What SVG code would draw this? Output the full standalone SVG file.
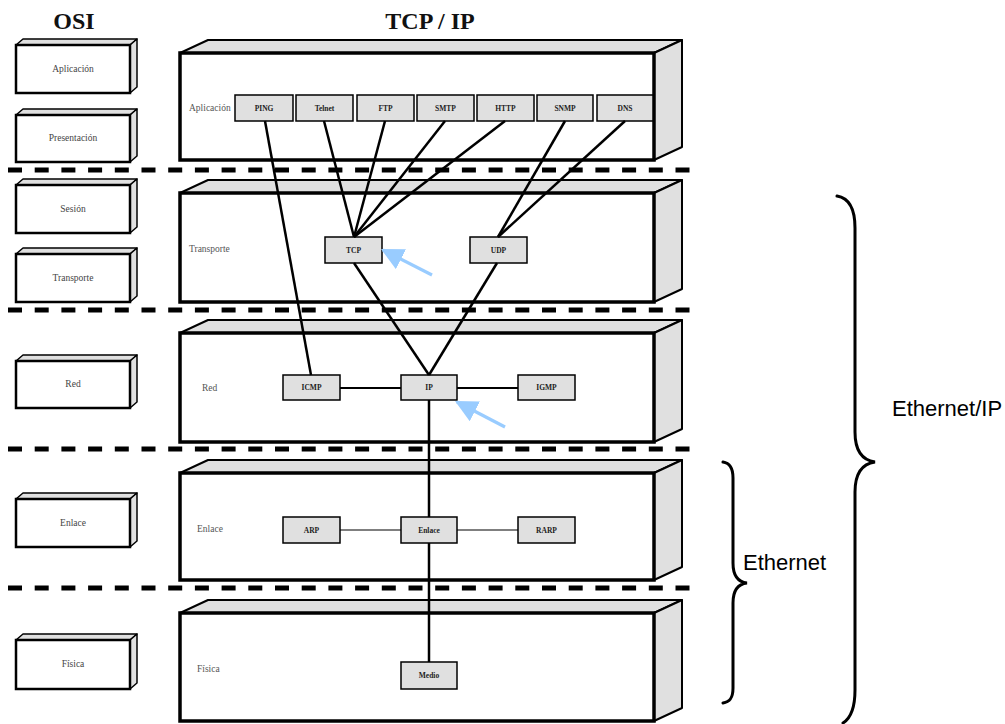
<svg xmlns="http://www.w3.org/2000/svg" width="1005" height="724" viewBox="0 0 1005 724">
  <style>
    .front { fill: #ffffff; stroke: #000; stroke-width: 3.5; }
    .face { fill: #e0e0e0; stroke: #000; stroke-width: 2; stroke-linejoin: round; }
    .ofront { fill: #ffffff; stroke: #000; stroke-width: 2.5; }
    .oface { fill: #e0e0e0; stroke: #000; stroke-width: 1.5; stroke-linejoin: round; }
    .proto { fill: #e0e0e0; stroke: #000; stroke-width: 1.5; }
    .plabel { font-family: "Liberation Serif", "Times New Roman", serif; font-size: 7.5px; font-weight: bold; fill: #222; text-anchor: middle; }
    .layer { font-family: "Liberation Serif", "Times New Roman", serif; font-size: 9.5px; fill: #555; }
    .olabel { font-family: "Liberation Serif", "Times New Roman", serif; font-size: 9.5px; fill: #444; text-anchor: middle; }
    .title { font-family: "Liberation Serif", "Times New Roman", serif; font-size: 24px; font-weight: bold; fill: #111; text-anchor: middle; }
    .sep { stroke: #000; stroke-width: 5; stroke-dasharray: 14 12.7; fill: none; }
    .link { stroke: #000; stroke-width: 2.5; fill: none; }
    .thin { stroke: #000; stroke-width: 1.2; fill: none; }
    .brace { stroke: #000; stroke-width: 3; fill: none; stroke-linecap: round; }
    .blabel { font-family: "Liberation Sans", Arial, sans-serif; font-size: 22px; fill: #000; }
    .hint { stroke: #99ccff; stroke-width: 3.2; fill: none; }
  </style>
  <defs>
    <marker id="blueHead" viewBox="0 0 10 10" refX="9" refY="5" markerWidth="7" markerHeight="7" orient="auto" markerUnits="strokeWidth">
      <path d="M0,0 L10,5 L0,10 z" fill="#99ccff"/>
    </marker>
  </defs>

  <rect width="1005" height="724" fill="#ffffff"/>

  <!-- column titles -->
  <text class="title" x="74" y="29">OSI</text>
  <text class="title" x="430" y="29">TCP / IP</text>

  <!-- OSI reference model layers -->
  <g id="osi-aplicacion">
    <polygon class="oface" points="16,45 23,39 137,39 130,45"/>
    <polygon class="oface" points="130,45 137,39 137,87 130,93"/>
    <rect class="ofront" x="16" y="45" width="114" height="48"/>
    <text class="olabel" x="73" y="72">Aplicación</text>
  </g>
  <g id="osi-presentacion">
    <polygon class="oface" points="16,115 23,109 137,109 130,115"/>
    <polygon class="oface" points="130,115 137,109 137,156 130,162"/>
    <rect class="ofront" x="16" y="115" width="114" height="47"/>
    <text class="olabel" x="73" y="141">Presentación</text>
  </g>
  <g id="osi-sesion">
    <polygon class="oface" points="16,185 23,179 137,179 130,185"/>
    <polygon class="oface" points="130,185 137,179 137,227 130,233"/>
    <rect class="ofront" x="16" y="185" width="114" height="48"/>
    <text class="olabel" x="73" y="212">Sesión</text>
  </g>
  <g id="osi-transporte">
    <polygon class="oface" points="16,254 23,248 137,248 130,254"/>
    <polygon class="oface" points="130,254 137,248 137,296 130,302"/>
    <rect class="ofront" x="16" y="254" width="114" height="48"/>
    <text class="olabel" x="73" y="281">Transporte</text>
  </g>
  <g id="osi-red">
    <polygon class="oface" points="16,361 23,355 137,355 130,361"/>
    <polygon class="oface" points="130,361 137,355 137,402 130,408"/>
    <rect class="ofront" x="16" y="361" width="114" height="47"/>
    <text class="olabel" x="73" y="387">Red</text>
  </g>
  <g id="osi-enlace">
    <polygon class="oface" points="16,499 23,493 137,493 130,499"/>
    <polygon class="oface" points="130,499 137,493 137,541 130,547"/>
    <rect class="ofront" x="16" y="499" width="114" height="48"/>
    <text class="olabel" x="73" y="526">Enlace</text>
  </g>
  <g id="osi-fisica">
    <polygon class="oface" points="16,640 23,634 137,634 130,640"/>
    <polygon class="oface" points="130,640 137,634 137,683 130,689"/>
    <rect class="ofront" x="16" y="640" width="114" height="49"/>
    <text class="olabel" x="73" y="667">Física</text>
  </g>

  <!-- TCP/IP stack layers -->
  <g id="tcpip-aplicacion">
    <polygon class="face" points="180,53 208,40 682,40 654,53"/>
    <polygon class="face" points="654,53 682,40 682,147 654,160"/>
    <rect class="front" x="180" y="53" width="474" height="107"/>
    <text class="layer" x="189" y="111">Aplicación</text>
  </g>
  <g id="tcpip-transporte">
    <polygon class="face" points="180,193 208,180 682,180 654,193"/>
    <polygon class="face" points="654,193 682,180 682,289 654,302"/>
    <rect class="front" x="180" y="193" width="474" height="109"/>
    <text class="layer" x="189" y="252">Transporte</text>
  </g>
  <g id="tcpip-red">
    <polygon class="face" points="180,333 208,320 682,320 654,333"/>
    <polygon class="face" points="654,333 682,320 682,429 654,442"/>
    <rect class="front" x="180" y="333" width="474" height="109"/>
    <text class="layer" x="202" y="391">Red</text>
  </g>
  <g id="tcpip-enlace">
    <polygon class="face" points="180,473 208,460 682,460 654,473"/>
    <polygon class="face" points="654,473 682,460 682,567 654,580"/>
    <rect class="front" x="180" y="473" width="474" height="107"/>
    <text class="layer" x="197" y="532">Enlace</text>
  </g>
  <g id="tcpip-fisica">
    <polygon class="face" points="180,613 208,600 682,600 654,613"/>
    <polygon class="face" points="654,613 682,600 682,708 654,721"/>
    <rect class="front" x="180" y="613" width="474" height="108"/>
    <text class="layer" x="197" y="672">Física</text>
  </g>

  <!-- layer separators -->
  <g id="separators">
    <line class="sep" x1="8" y1="170" x2="692" y2="170"/>
    <line class="sep" x1="8" y1="310" x2="692" y2="310"/>
    <line class="sep" x1="8" y1="449" x2="692" y2="449"/>
    <line class="sep" x1="8" y1="588" x2="692" y2="588"/>
  </g>

  <!-- protocols -->
  <g id="ping"><rect class="proto" x="235" y="95" width="58" height="26"/><text class="plabel" x="264" y="111">PING</text></g>
  <g id="telnet"><rect class="proto" x="296" y="95" width="57" height="26"/><text class="plabel" x="324.5" y="111">Telnet</text></g>
  <g id="ftp"><rect class="proto" x="357" y="95" width="57" height="26"/><text class="plabel" x="385.5" y="111">FTP</text></g>
  <g id="smtp"><rect class="proto" x="417" y="95" width="57" height="26"/><text class="plabel" x="445.5" y="111">SMTP</text></g>
  <g id="http"><rect class="proto" x="477" y="95" width="57" height="26"/><text class="plabel" x="505.5" y="111">HTTP</text></g>
  <g id="snmp"><rect class="proto" x="537" y="95" width="56" height="26"/><text class="plabel" x="565" y="111">SNMP</text></g>
  <g id="dns"><rect class="proto" x="597" y="95" width="56" height="26"/><text class="plabel" x="625" y="111">DNS</text></g>

  <g id="tcp"><rect class="proto" x="325" y="237" width="57" height="26"/><text class="plabel" x="353.5" y="253">TCP</text></g>
  <g id="udp"><rect class="proto" x="470" y="237" width="57" height="26"/><text class="plabel" x="498.5" y="253">UDP</text></g>

  <g id="icmp"><rect class="proto" x="283" y="375" width="57" height="25"/><text class="plabel" x="311.5" y="390">ICMP</text></g>
  <g id="ip"><rect class="proto" x="401" y="375" width="56" height="25"/><text class="plabel" x="429" y="390">IP</text></g>
  <g id="igmp"><rect class="proto" x="518" y="375" width="57" height="25"/><text class="plabel" x="546.5" y="390">IGMP</text></g>

  <g id="arp"><rect class="proto" x="283" y="517" width="57" height="26"/><text class="plabel" x="311.5" y="533">ARP</text></g>
  <g id="enlace"><rect class="proto" x="401" y="517" width="56" height="26"/><text class="plabel" x="429" y="533">Enlace</text></g>
  <g id="rarp"><rect class="proto" x="518" y="517" width="57" height="26"/><text class="plabel" x="546.5" y="533">RARP</text></g>

  <g id="medio"><rect class="proto" x="401" y="662" width="56" height="27"/><text class="plabel" x="429" y="678">Medio</text></g>

  <!-- connectors -->
  <g id="connectors">
    <line class="link" x1="265" y1="121" x2="311" y2="375"/>
    <line class="link" x1="324" y1="121" x2="354" y2="237"/>
    <line class="link" x1="385" y1="121" x2="354" y2="237"/>
    <line class="link" x1="445" y1="121" x2="354" y2="237"/>
    <line class="link" x1="505" y1="121" x2="354" y2="237"/>
    <line class="link" x1="565" y1="121" x2="498" y2="237"/>
    <line class="link" x1="625" y1="121" x2="498" y2="237"/>
    <line class="link" x1="354" y1="263" x2="429" y2="375"/>
    <line class="link" x1="497" y1="263" x2="429" y2="375"/>
    <line class="link" x1="340" y1="388" x2="401" y2="388" style="stroke-width:2"/>
    <line class="link" x1="457" y1="388" x2="518" y2="388" style="stroke-width:2"/>
    <line class="link" x1="429" y1="400" x2="429" y2="517"/>
    <line class="thin" x1="340" y1="530" x2="401" y2="530"/>
    <line class="thin" x1="457" y1="530" x2="518" y2="530"/>
    <line class="link" x1="429" y1="543" x2="429" y2="662"/>
  </g>

  <!-- highlight arrows -->
  <g id="highlights">
    <line class="hint" x1="432" y1="275" x2="383" y2="250" marker-end="url(#blueHead)"/>
    <line class="hint" x1="505" y1="427" x2="457" y2="402" marker-end="url(#blueHead)"/>
  </g>

  <!-- scope braces -->
  <g id="brace-ethernet-ip">
    <path class="brace" d="M837,196 C849,198 855,208 855,228 L855,432 C855,450 861,460 875,462 C861,464 855,474 855,492 L855,690 C855,708 851,718 843,723"/>
    <text class="blabel" x="892" y="416">Ethernet/IP</text>
  </g>
  <g id="brace-ethernet">
    <path class="brace" d="M723,462 C730,463 733,468 733,478 L733,563 C733,576 738,582 747,583 C738,584 733,590 733,603 L733,688 C733,698 730,702 723,703"/>
    <text class="blabel" x="743" y="570">Ethernet</text>
  </g>
</svg>
